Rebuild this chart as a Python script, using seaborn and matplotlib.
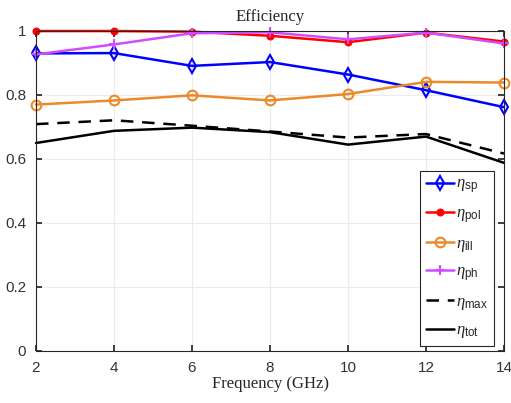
import matplotlib
matplotlib.use("Agg")
import matplotlib.pyplot as plt
import seaborn as sns
import numpy as np

freq = [2, 4, 6, 8, 10, 12, 14]
eta_sp = [0.930, 0.931, 0.891, 0.903, 0.864, 0.815, 0.762]
eta_pol = [1.000, 1.000, 0.998, 0.985, 0.965, 0.995, 0.967]
eta_ill = [0.770, 0.783, 0.799, 0.783, 0.803, 0.841, 0.839]
eta_ph = [0.927, 0.958, 0.993, 0.996, 0.974, 0.995, 0.961]
eta_max = [0.709, 0.721, 0.704, 0.686, 0.667, 0.678, 0.617]
eta_tot = [0.650, 0.688, 0.698, 0.684, 0.645, 0.670, 0.588]

sns.set_theme(style="ticks")
plt.rcParams['font.family'] = ['Liberation Sans', 'DejaVu Sans']
plt.rcParams['mathtext.fontset'] = 'custom'
plt.rcParams['mathtext.it'] = 'Liberation Serif:italic'
plt.rcParams['mathtext.rm'] = 'Liberation Sans'
plt.rcParams['mathtext.sf'] = 'Liberation Sans'

fig = plt.figure(figsize=(5.11, 4.03), dpi=100)
ax = fig.add_axes([36/511, (403-351)/403, (504-36)/511, (351-31)/403])

lw = 1.8
common = dict(ax=ax, lw=lw, clip_on=False)
sns.lineplot(x=freq, y=eta_sp, color='#0000FF', marker='d', markersize=7,
             markerfacecolor='none', markeredgecolor='#0000FF', markeredgewidth=1.5,
             label=r'$\eta_{\mathrm{sp}}$', **common)
sns.lineplot(x=freq, y=eta_pol, color='#FF0000', marker='o', markersize=5,
             markerfacecolor='#FF0000', markeredgecolor='#FF0000',
             label=r'$\eta_{\mathrm{pol}}$', **common)
sns.lineplot(x=freq, y=eta_ill, color='#EB8A2B', marker='o', markersize=7,
             markerfacecolor='none', markeredgecolor='#EB8A2B', markeredgewidth=1.5,
             label=r'$\eta_{\mathrm{ill}}$', **common)
sns.lineplot(x=freq, y=eta_ph, color='#D04CFF', marker='+', markersize=7,
             markeredgecolor='#D04CFF', markeredgewidth=1.5,
             label=r'$\eta_{\mathrm{ph}}$', **common)
sns.lineplot(x=freq, y=eta_max, color='black', linestyle=(0, (5, 3.5)),
             label=r'$\eta_{\mathrm{max}}$', **common)
sns.lineplot(x=freq, y=eta_tot, color='black',
             label=r'$\eta_{\mathrm{tot}}$', **common)

ax.set_xlim(2, 14)
ax.set_ylim(0, 1)
ax.set_xticks([2, 4, 6, 8, 10, 12, 14])
ax.set_yticks([0, 0.2, 0.4, 0.6, 0.8, 1])
ax.set_yticklabels(['0', '0.2', '0.4', '0.6', '0.8', '1'])
ax.grid(True, color='#EBEBEB', lw=0.8)
ax.set_axisbelow(True)
for s in ax.spines.values():
    s.set_color('#262626')
    s.set_linewidth(0.8)
    s.set_visible(True)
ax.tick_params(direction='in', top=True, right=True, length=4, labelsize=11,
               colors='#262626', labelcolor='#333333')
ax.tick_params(axis='x', pad=7)
ax.tick_params(axis='y', pad=7)
ax.set_title('Efficiency', family='Liberation Serif', fontsize=12, pad=7, color='#262626')
ax.set_xlabel('Frequency (GHz)', family='Liberation Serif', fontsize=12, labelpad=1, color='#262626')

leg = ax.legend(loc='lower right', bbox_to_anchor=(0.978, 0.015), fontsize=12, frameon=True,
                fancybox=False, edgecolor='#262626', framealpha=1, handlelength=1.7,
                handletextpad=0.1, labelspacing=0.62, borderpad=0.35, borderaxespad=0)
leg.get_frame().set_linewidth(0.8)

fig.savefig('out.png', dpi=100)
